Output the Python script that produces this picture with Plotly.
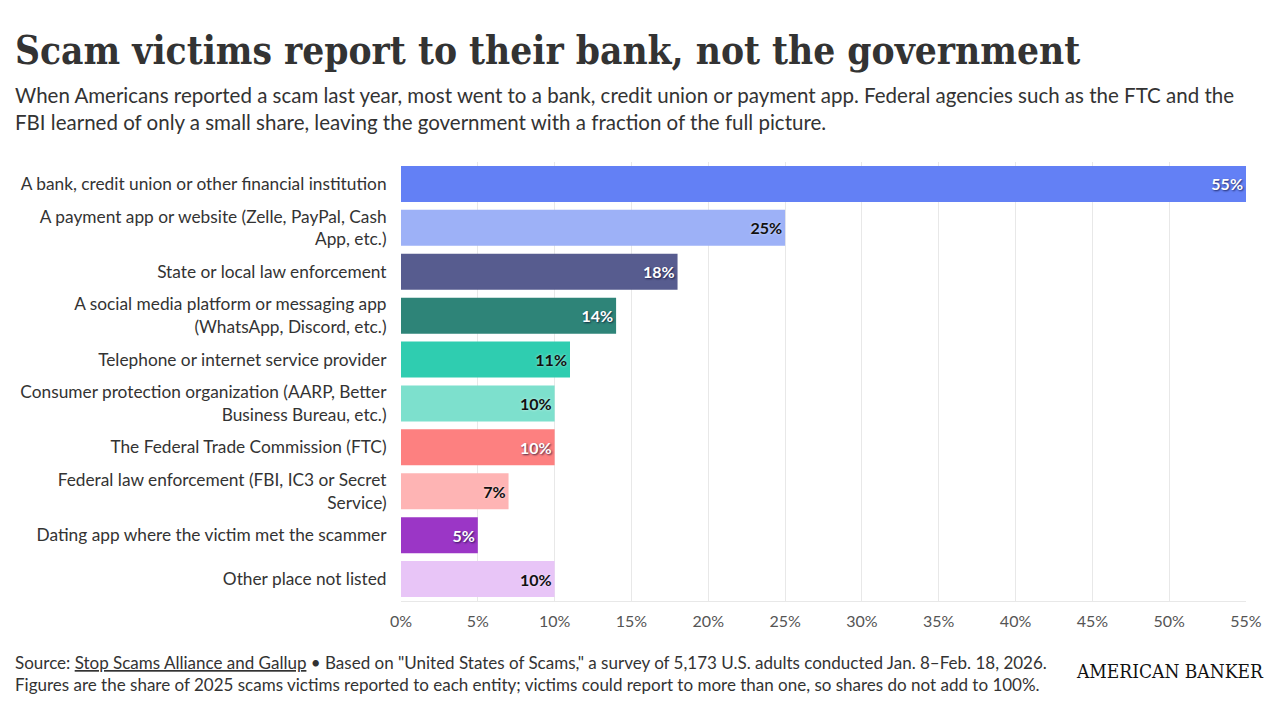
import plotly.graph_objects as go

categories = [
    "A bank, credit union or other financial institution",
    "A payment app or website (Zelle, PayPal, Cash<br>App, etc.)",
    "State or local law enforcement",
    "A social media platform or messaging app<br>(WhatsApp, Discord, etc.)",
    "Telephone or internet service provider",
    "Consumer protection organization (AARP, Better<br>Business Bureau, etc.)",
    "The Federal Trade Commission (FTC)",
    "Federal law enforcement (FBI, IC3 or Secret<br>Service)",
    "Dating app where the victim met the scammer",
    "Other place not listed",
]
values = [55, 25, 18, 14, 11, 10, 10, 7, 5, 10]
colors = ["#6380f5", "#9db1f7", "#575c8f", "#2e8478", "#2fcdb0",
          "#7de0cd", "#fd8080", "#feb4b4", "#9b36c6", "#e8c5f7"]
label_colors = ["#ffffff", "#111111", "#ffffff", "#ffffff", "#111111",
                "#111111", "#ffffff", "#111111", "#ffffff", "#111111"]
label_shadows = ["1px 1px 2px rgba(0,0,40,0.7)" if c == "#ffffff"
                 else "0px 0px 3px rgba(255,255,255,0.6)" for c in label_colors]
tick_vals = [0, 5, 10, 15, 20, 25, 30, 35, 40, 45, 50, 55]
tick_text = [f"{v}%" for v in tick_vals]

fig = go.Figure(go.Bar(
    x=values, y=categories, orientation="h",
    marker=dict(color=colors, line=dict(width=0)),
    width=0.82,
    text=[f"{v}%" for v in values],
    textposition="inside", insidetextanchor="end",
    textfont=dict(family="Lato", size=16, color=label_colors,
                  weight="bold", shadow=label_shadows),
    textangle=0, cliponaxis=False,
    hoverinfo="skip",
))

fig.update_layout(
    width=1280, height=720,
    margin=dict(l=401, r=34, t=162, b=119),
    paper_bgcolor="white", plot_bgcolor="white",
    font=dict(family="Lato", color="#333333"),
    showlegend=False,
)
fig.update_xaxes(
    range=[0, 55], tickvals=tick_vals, ticktext=tick_text,
    showgrid=True, gridcolor="#e8e8e8", gridwidth=1,
    zeroline=False, showline=True, linecolor="#e8e8e8",
    tickfont=dict(family="Lato", size=16, color="#555555"),
    ticks="outside", ticklen=6, tickcolor="rgba(0,0,0,0)",
    fixedrange=True,
)
fig.update_yaxes(
    categoryorder="array", categoryarray=categories[::-1],
    range=[-0.5, 9.5],
    tickfont=dict(family="Lato", size=17.3, color="#333333"),
    ticks="outside", ticklen=10, tickcolor="rgba(0,0,0,0)",
    showgrid=False, zeroline=False, showline=False,
)

x0 = -(401 - 13) / 845
fig.add_annotation(
    xref="paper", yref="paper", x=x0, y=1 + (162-75)/439,
    xanchor="left", yanchor="bottom", showarrow=False,
    text="<b>Scam victims report to their bank, not the government</b>",
    font=dict(family="DejaVu Serif Condensed", size=38.5, color="#333333"),
)
fig.add_annotation(
    xref="paper", yref="paper", x=x0, y=1 + (162-136)/439,
    xanchor="left", yanchor="bottom", showarrow=False, align="left",
    text="When Americans reported a scam last year, most went to a bank, credit union or payment app. Federal agencies such as the FTC and the<br>FBI learned of only a small share, leaving the government with a fraction of the full picture.",
    font=dict(family="Lato", size=20.5, color="#333333"),
)
fig.add_annotation(
    xref="paper", yref="paper", x=x0, y=-(697-601)/439,
    xanchor="left", yanchor="bottom", showarrow=False, align="left",
    text='Source: <u>Stop Scams Alliance and Gallup</u> \u2022 Based on "United States of Scams," a survey of 5,173 U.S. adults conducted Jan. 8\u2013Feb. 18, 2026.<br>Figures are the share of 2025 scams victims reported to each entity; victims could report to more than one, so shares do not add to 100%.',
    font=dict(family="Lato", size=17, color="#333333"),
)
fig.add_annotation(
    xref="paper", yref="paper", x=1 + 20/845, y=-(684-601)/439,
    xanchor="right", yanchor="bottom", showarrow=False,
    text="AMERICAN BANKER",
    font=dict(family="DejaVu Serif Condensed", size=19, color="#111111"),
)

fig.write_html("out.html")
